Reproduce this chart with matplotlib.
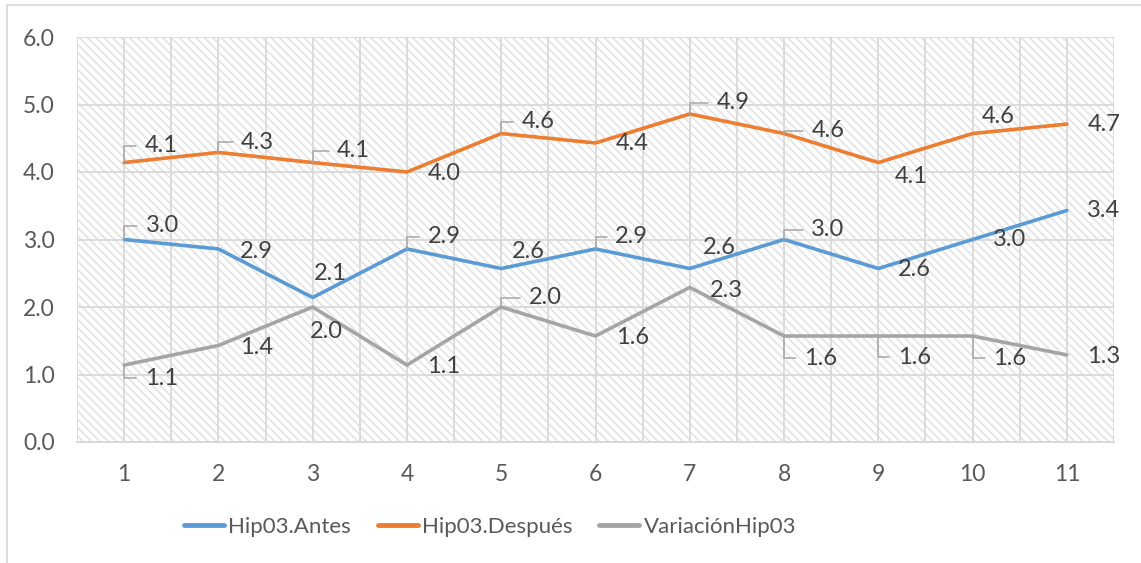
import matplotlib
matplotlib.use('Agg')
import matplotlib.pyplot as plt
from matplotlib.patches import Rectangle
from matplotlib.lines import Line2D
import numpy as np

#### Data
categories = [1, 2, 3, 4, 5, 6, 7, 8, 9, 10, 11]
antes = [3.00, 2.86, 2.14, 2.86, 2.57, 2.86, 2.57, 3.00, 2.57, 3.00, 3.43]
despues = [4.14, 4.29, 4.14, 4.00, 4.57, 4.43, 4.86, 4.57, 4.14, 4.57, 4.71]
variacion = [1.14, 1.43, 2.00, 1.14, 2.00, 1.57, 2.29, 1.57, 1.57, 1.57, 1.29]
series_names = ['Hip03.Antes', 'Hip03.Después', 'VariaciónHip03']

#### Label placement (pixel offsets from the point, y downward) and leader flags
off_antes = [(38, -14), (38, 3), (18, -24), (37, -12), (27, -17), (36, -12), (30, -21), (44, -10), (36, 1), (37, 0), (37, 0)]
off_despues = [(37, -17), (39, -10), (41, -12), (37, 2), (37, -12), (37, 1), (43, -11), (44, -3), (33, 14), (26, -17), (37, 0)]
off_var = [(37, 13), (38, 2), (14, 24), (37, 1), (44, -9), (37, 1), (37, 3), (37, 22), (36, 21), (37, 22), (37, 2)]
lead_antes = [1, 0, 0, 1, 0, 1, 0, 1, 0, 0, 0]
lead_despues = [1, 1, 1, 0, 1, 0, 1, 1, 0, 0, 0]
lead_var = [1, 0, 0, 0, 1, 0, 0, 1, 1, 1, 0]

colors = ['#5B9BD5', '#ED7D31', '#A5A5A5']
grid_col = '#D9D9D9'
label_col = '#404040'
tick_col = '#595959'

plt.rcParams['font.family'] = ['Lato', 'DejaVu Sans']
plt.rcParams['hatch.linewidth'] = 1.2

W, H = 1141, 563
fig = plt.figure(figsize=(W / 100, H / 100), dpi=100)
ax = fig.add_axes([77 / W, 1 - 442 / H, (1114 - 77) / W, (442 - 37) / H])

#### hatched plot area
ax.set_facecolor('white')
ax.add_patch(Rectangle((0, 0), 1, 1, transform=ax.transAxes, facecolor='white',
                       edgecolor='#E3E3E3', linewidth=0, hatch='\\\\\\\\', zorder=0.1))

ax.set_xlim(0.5, 11.5)
ax.set_ylim(0, 6)
ax.set_xticks(categories)
ax.set_xticks(np.arange(0.5, 12, 1), minor=True)
ax.set_yticks(np.arange(0, 6.5, 1))
ax.set_yticklabels(['%.1f' % v for v in np.arange(0, 6.5, 1)])
ax.set_axisbelow(True)
ax.grid(which='both', color=grid_col, linewidth=1.3, zorder=0.5)
ax.tick_params(which='both', length=0)
ax.tick_params(axis='y', pad=16, labelsize=16.5, labelcolor=tick_col)
ax.tick_params(axis='x', pad=16, labelsize=16.5, labelcolor=tick_col)
for s in ['top', 'right', 'left']:
    ax.spines[s].set_visible(False)
ax.spines['bottom'].set_color(grid_col)
ax.spines['bottom'].set_linewidth(1.5)

all_series = [antes, despues, variacion]
all_offs = [off_antes, off_despues, off_var]
all_leads = [lead_antes, lead_despues, lead_var]

for vals, name, col, offs, leads in zip(all_series, series_names, colors, all_offs, all_leads):
    ax.plot(categories, vals, color=col, linewidth=2.6, label=name, zorder=3,
            solid_capstyle='round', solid_joinstyle='miter')
    for x, v, (dx, dy), ld in zip(categories, vals, offs, leads):
        arrow = None
        if ld:
            arrow = dict(arrowstyle='-', color='#A6A6A6', lw=1.1,
                         connectionstyle='angle,angleA=180,angleB=90,rad=0',
                         relpos=(0, 0.5), shrinkA=6, shrinkB=0, patchA=None)
        ax.annotate('%.1f' % v, xy=(x, v), xytext=(dx, -dy), textcoords='offset pixels',
                    ha='center', va='center', fontsize=17, color=label_col,
                    arrowprops=arrow, zorder=4)

#### legend
leg = fig.legend(loc='center', bbox_to_anchor=(490 / W, 1 - 527 / H), ncol=3, frameon=False,
                 prop={'size': 16},
                 handlelength=1.8, handletextpad=0.2, columnspacing=1.2)
for t in leg.get_texts():
    t.set_color(tick_col)
for h in leg.get_lines():
    h.set_linewidth(3.5)

#### chart area border (top and left)
fig.add_artist(Line2D([7 / W, 1], [1 - 5 / H, 1 - 5 / H], color=grid_col, lw=1.3, transform=fig.transFigure))
fig.add_artist(Line2D([7 / W, 7 / W], [0, 1 - 5 / H], color=grid_col, lw=1.3, transform=fig.transFigure))

plt.savefig('out.png', dpi=100)
